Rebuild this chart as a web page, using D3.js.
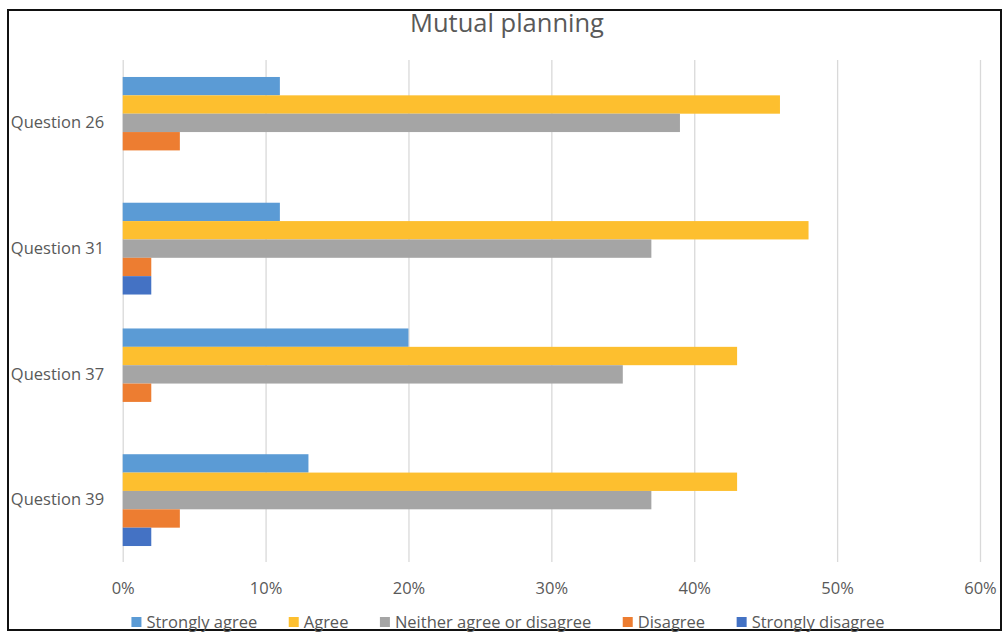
<!DOCTYPE html>
<html>
<head>
<meta charset="utf-8">
<script src="https://cdn.jsdelivr.net/npm/d3@7/dist/d3.min.js"></script>
<style>
  html, body { margin: 0; padding: 0; background: #fff; }
  svg { display: block; font-family: "Open Sans", sans-serif; }
</style>
</head>
<body>
<svg id="chart" width="1005" height="634"></svg>
<script>
// Survey responses per question (share of respondents, %)
const questions = ["Question 26", "Question 31", "Question 37", "Question 39"];
const seriesNames = ["Strongly agree", "Agree", "Neither agree or disagree", "Disagree", "Strongly disagree"];
const stronglyAgree    = [11, 11, 20, 13];
const agree            = [46, 48, 43, 43];
const neither          = [39, 37, 35, 37];
const disagree         = [4, 2, 2, 4];
const stronglyDisagree = [0, 2, 0, 2];
const xTicks = [0, 10, 20, 30, 40, 50, 60];
const colors = ["#5B9BD5", "#FDBF2F", "#A5A5A5", "#ED7D31", "#4472C4"];

const seriesValues = [stronglyAgree, agree, neither, disagree, stronglyDisagree];
const rows = [];
questions.forEach((q, qi) => {
  seriesNames.forEach((s, si) => {
    rows.push({ question: q, series: s, value: seriesValues[si][qi], color: colors[si] });
  });
});

const svg = d3.select("#chart");
const textColor = "#595959";
const labelSize = 16.5;

// Outer chart frame
svg.append("rect")
  .attr("x", 8).attr("y", 10)
  .attr("width", 993).attr("height", 620)
  .attr("fill", "#fff")
  .attr("stroke", "#111").attr("stroke-width", 2);

// Title
svg.append("text")
  .attr("x", 507).attr("y", 31.5)
  .attr("text-anchor", "middle")
  .attr("font-size", 25.5)
  .attr("fill", textColor)
  .text("Mutual planning");

const plot = { left: 122.7, right: 980, top: 60, bottom: 562 };

const x = d3.scaleLinear().domain([0, 60]).range([plot.left, plot.right]);
const y = d3.scaleBand().domain(questions)
  .range([plot.top, plot.bottom + 1])
  .paddingInner(0.27).paddingOuter(0.135);
const ySub = d3.scaleBand().domain(seriesNames).range([0, y.bandwidth()]);

// Vertical gridlines and percentage labels
const xAxis = svg.append("g")
  .attr("transform", `translate(0,${plot.bottom})`)
  .call(d3.axisBottom(x)
    .tickValues(xTicks)
    .tickSize(-(plot.bottom - plot.top))
    .tickPadding(20)
    .tickFormat(d => d + "%"));
xAxis.select(".domain").remove();
xAxis.selectAll(".tick line").attr("stroke", "#d9d9d9").attr("stroke-width", 1.3);
xAxis.selectAll(".tick text")
  .attr("font-size", labelSize)
  .attr("font-family", "Open Sans, sans-serif")
  .attr("fill", textColor);

// Bars
svg.append("g")
  .selectAll("rect")
  .data(rows)
  .join("rect")
  .attr("x", x(0))
  .attr("y", d => y(d.question) + ySub(d.series))
  .attr("width", d => x(d.value) - x(0))
  .attr("height", ySub.bandwidth())
  .attr("fill", d => d.color);

// Category labels
const yAxis = svg.append("g")
  .attr("transform", `translate(${plot.left},0)`)
  .call(d3.axisLeft(y).tickSize(0).tickPadding(18.5));
yAxis.select(".domain").remove();
yAxis.selectAll(".tick text")
  .attr("font-size", labelSize)
  .attr("font-family", "Open Sans, sans-serif")
  .attr("fill", textColor);

// Legend
const legend = svg.append("g");
const items = legend.selectAll("g")
  .data(seriesNames)
  .join("g");
items.append("rect")
  .attr("width", 10).attr("height", 10)
  .attr("y", 617)
  .attr("fill", (d, i) => colors[i]);
items.append("text")
  .attr("x", 15).attr("y", 627.5)
  .attr("font-size", labelSize)
  .attr("fill", textColor)
  .text(d => d);

let cursor = 0;
const gap = 31.5;
items.each(function () {
  const g = d3.select(this);
  g.attr("transform", `translate(${cursor},0)`);
  const w = 15 + g.select("text").node().getComputedTextLength();
  cursor += w + gap;
});
const totalWidth = cursor - gap;
legend.attr("transform", `translate(${508 - totalWidth / 2},0)`);
</script>
</body>
</html>
